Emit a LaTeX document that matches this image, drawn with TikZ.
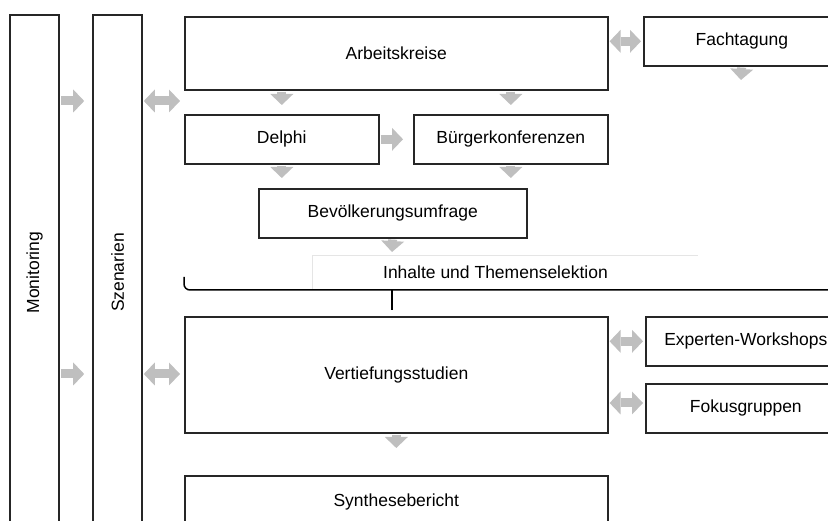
\documentclass[tikz,border=0pt]{standalone}
\usepackage{fontspec}
\setmainfont{Liberation Sans}
\usetikzlibrary{arrows.meta}

\begin{document}
\begin{tikzpicture}[
    x=1pt, y=-1pt,
    box/.style={rectangle, draw=black!85, line width=1.6pt, fill=white, align=center,
                font=\fontsize{17.5}{21}\selectfont, inner sep=0pt, anchor=north west},
    col/.style={box, anchor=center, minimum width=49pt, minimum height=515pt},
    fat/.style={line width=9pt, draw=gray!50, shorten <=1pt,
                -{Triangle[width=23pt,length=11pt,line width=0pt]}},
    fatboth/.style={fat, {Triangle[width=23pt,length=11pt,line width=0pt]}-{Triangle[width=23pt,length=11pt,line width=0pt]}},
    faint/.style={draw=gray!20, line width=1pt},
    brace/.style={draw=black, line width=1.5pt, rounded corners=6pt}
]
\useasboundingbox (0,0) rectangle (828,521);
\clip (0,0) rectangle (828,521);

% side columns
\node[col] (mon) at (34.5,272.5) {\rotatebox{90}{Monitoring}};
\node[col] (scn) at (117.5,272.5) {\rotatebox{90}{Szenarien}};

% main boxes
\node[box, minimum width=423pt, minimum height=73pt] (ak) at (184,16) {Arbeitskreise};
\node[box, minimum width=196pt, minimum height=49pt] (ft) at (643,16) {Fachtagung};
\node[box, minimum width=194pt, minimum height=49pt] (del) at (184,114) {Delphi};
\node[box, minimum width=194pt, minimum height=49pt] (bk) at (413,114) {Bürgerkonferenzen};
\node[box, minimum width=268pt, minimum height=49pt] (bu) at (258,188) {Bevölkerungsumfrage};
\node[box, minimum width=423pt, minimum height=116pt] (vs) at (184,316) {Vertiefungsstudien};
\node[box, minimum width=200pt, minimum height=49pt] (ew) at (645,316) {Experten-Workshops};
\node[box, minimum width=200pt, minimum height=49pt] (fg) at (645,383) {Fokusgruppen};
\node[box, minimum width=423pt, minimum height=52pt] (sb) at (184,475) {Synthesebericht};

% selection label and brace
\node[font=\fontsize{17.5}{21}\selectfont] (sel) at (495.5,272.5) {Inhalte und Themenselektion};
\coordinate (selL) at (312,289);
\coordinate (selR) at (698,256);
\draw[faint] (selL) |- (selR);
\coordinate (brL) at (184,277);
\coordinate (brR) at (840,290);
\coordinate (brM) at (392,310);
\draw[brace] (brL) |- (brR);
\draw[brace] (brM |- brR) -- (brM);

% arrows
\coordinate (rowA) at (0,101);
\coordinate (rowB) at (0,374);
\coordinate (rowC) at (0,403);
\coordinate (ftEnd) at (741,80);
\coordinate (buEnd) at (392,252);
\draw[fat, shorten >=8pt] (mon.east |- rowA) -- (scn.west |- rowA);
\draw[fat, shorten >=8pt] (mon.east |- rowB) -- (scn.west |- rowB);
\draw[fatboth, shorten >=4pt] (scn.east |- rowA) -- (ak.west |- rowA);
\draw[fatboth, shorten >=4pt] (scn.east |- rowB) -- (vs.west |- rowB);
\draw[fatboth, shorten >=2pt] (ak.east |- ft.west) -- (ft.west);
\draw[fat, shorten >=9pt] (ak.south -| del.north) -- (del.north);
\draw[fat, shorten >=9pt] (ak.south -| bk.north) -- (bk.north);
\draw[fat] (ft.south) -- (ftEnd);
\draw[fat, shorten >=10pt] (del.east) -- (bk.west);
\draw[fat, shorten >=10pt] (del.south) -- (del.south |- bu.north);
\draw[fat, shorten >=10pt] (bk.south) -- (bk.south |- bu.north);
\draw[fat] (bu.south) -- (buEnd);
\draw[fat, shorten >=27pt] (vs.south) -- (sb.north);
\draw[fatboth, shorten >=2pt] (vs.east |- ew.west) -- (ew.west);
\draw[fatboth, shorten >=2pt] (vs.east |- rowC) -- (fg.west |- rowC);
\end{tikzpicture}
\end{document}
